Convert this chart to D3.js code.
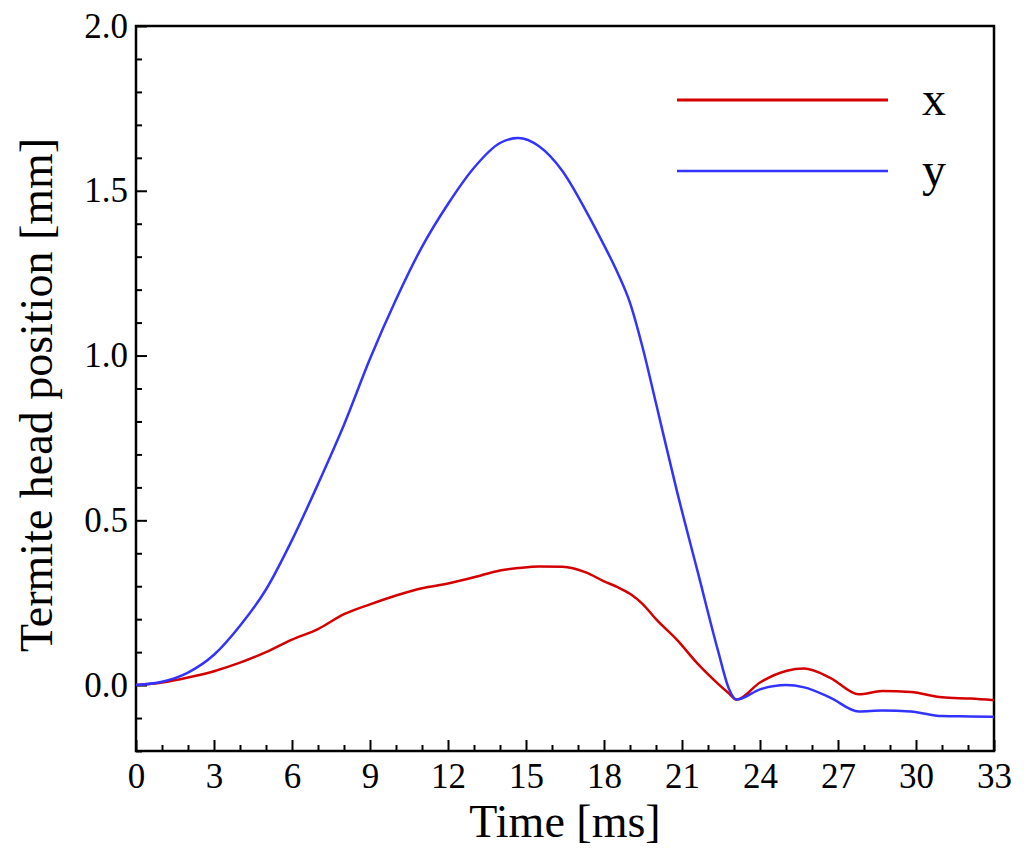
<!DOCTYPE html>
<html>
  <head>
    <meta charset="UTF-8">
    <title>Termite head position</title>
    <script src="https://d3js.org/d3.v7.min.js"></script>
    <style>
      body { margin: 0; background: #fff; }
      svg text { font-family: "Liberation Serif", "Times New Roman", serif !important; fill: #000; }
    </style>
  </head>
  <body>
    <svg width="1024" height="855"></svg>
    <script>
      // Data
      var time = [0, 1, 2, 3, 4, 5, 6, 7, 8, 9, 10, 11, 12, 13, 14, 14.7, 15.5, 16.4, 17.3, 18, 18.5, 19, 19.5, 20, 20.8, 21.6, 22.4, 22.8, 23.1, 24, 25, 25.7, 26.7, 27.8, 28.7, 29.8, 31, 32.1, 33];
      var xPos = [0, 0.008, 0.023, 0.042, 0.068, 0.1, 0.138, 0.17, 0.215, 0.245, 0.272, 0.294, 0.308, 0.327, 0.348, 0.355, 0.36, 0.359, 0.342, 0.315, 0.298, 0.277, 0.245, 0.2, 0.138, 0.065, 0.003, -0.025, -0.044, 0.008, 0.043, 0.05, 0.022, -0.028, -0.018, -0.021, -0.037, -0.041, -0.046];
      var yPos = [0, 0.01, 0.038, 0.092, 0.18, 0.29, 0.44, 0.61, 0.79, 0.99, 1.17, 1.33, 1.46, 1.57, 1.645, 1.66, 1.635, 1.56, 1.44, 1.335, 1.255, 1.16, 1.02, 0.855, 0.59, 0.345, 0.1, -0.01, -0.044, -0.013, 0, -0.007, -0.038, -0.08, -0.077, -0.08, -0.094, -0.095, -0.096];
      var seriesNames = ["x", "y"];
      var seriesColors = ["#d40000", "#3333ff"];
      var xTicks = [0, 3, 6, 9, 12, 15, 18, 21, 24, 27, 30, 33];
      var yTicks = [0.0, 0.5, 1.0, 1.5, 2.0];

      var serif = "'Liberation Serif', 'Times New Roman', serif";

      var svg = d3.select("svg"),
          margin = {top: 26, right: 30, bottom: 104, left: 136},
          width = +svg.attr("width") - margin.left - margin.right,
          height = +svg.attr("height") - margin.top - margin.bottom,
          g = svg.append("g").attr("transform", "translate(" + margin.left + "," + margin.top + ")");

      var x = d3.scaleLinear().domain([0, 33]).range([0, width]);
      var y = d3.scaleLinear().domain([-0.2, 2.0]).range([height, 0]);

      // minor ticks
      var xMinor = d3.range(0, 34, 1).filter(function(d) { return d % 3 !== 0; });
      var yMinor = d3.range(-2, 21, 1).map(function(d) { return d / 10; })
          .filter(function(d) { return Math.abs(d * 2 - Math.round(d * 2)) > 1e-6; });

      g.append("g")
          .attr("transform", "translate(0," + height + ")")
          .call(d3.axisBottom(x).tickValues(xMinor).tickSize(-6).tickFormat(""))
          .call(function(s) { s.select(".domain").remove(); })
          .selectAll("line").attr("stroke-width", 2);
      g.append("g")
          .call(d3.axisLeft(y).tickValues(yMinor).tickSize(-6).tickFormat(""))
          .call(function(s) { s.select(".domain").remove(); })
          .selectAll("line").attr("stroke-width", 2);

      // major ticks with labels
      var xAxis = g.append("g")
          .attr("transform", "translate(0," + height + ")")
          .call(d3.axisBottom(x).tickValues(xTicks).tickSize(-11).tickPadding(12).tickFormat(d3.format("d")));
      xAxis.attr("font-family", null).style("font-family", serif);
      xAxis.select(".domain").remove();
      xAxis.selectAll("line").attr("stroke-width", 2);
      xAxis.selectAll("text").attr("font-size", 35).style("font-family", serif);

      var yAxis = g.append("g")
          .call(d3.axisLeft(y).tickValues(yTicks).tickSize(-11).tickPadding(8).tickFormat(d3.format(".1f")));
      yAxis.attr("font-family", null).style("font-family", serif);
      yAxis.select(".domain").remove();
      yAxis.selectAll("line").attr("stroke-width", 2);
      yAxis.selectAll("text").attr("font-size", 35).style("font-family", serif);

      // frame
      g.append("rect")
          .attr("width", width)
          .attr("height", height)
          .attr("fill", "none")
          .attr("stroke", "black")
          .attr("stroke-width", 2.5);

      // lines
      var line = d3.line()
          .x(function(d, i) { return x(time[i]); })
          .y(function(d) { return y(d); })
          .curve(d3.curveMonotoneX);

      [xPos, yPos].forEach(function(vals, k) {
        g.append("path")
            .datum(vals)
            .attr("fill", "none")
            .attr("stroke", seriesColors[k])
            .attr("stroke-width", 2.5)
            .attr("d", line);
      });

      // legend
      var legend = g.append("g").attr("transform", "translate(" + (677 - margin.left) + "," + (100 - margin.top) + ")");
      seriesNames.forEach(function(name, k) {
        legend.append("line")
            .attr("x1", 0).attr("x2", 211)
            .attr("y1", k * 71).attr("y2", k * 71)
            .attr("stroke", seriesColors[k])
            .attr("stroke-width", k === 0 ? 3 : 2.5);
        legend.append("text")
            .attr("x", 245)
            .attr("y", k * 71 + 15)
            .attr("font-size", 48)
            .text(name);
      });

      // axis titles
      svg.append("text")
          .attr("x", margin.left + width / 2)
          .attr("y", 837)
          .attr("text-anchor", "middle")
          .attr("font-size", 46)
          .text("Time [ms]");
      svg.append("text")
          .attr("transform", "translate(52,395) rotate(-90)")
          .attr("text-anchor", "middle")
          .attr("font-size", 46)
          .text("Termite head position [mm]");
    </script>
  </body>
</html>
